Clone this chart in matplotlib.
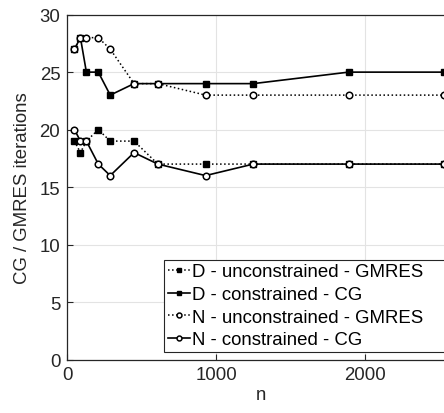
import matplotlib
matplotlib.use('Agg')
import matplotlib.pyplot as plt

plt.rcParams['font.family'] = ['Liberation Sans', 'DejaVu Sans']

# Taille du probleme
n = [48, 88, 128, 208, 288, 448, 608, 928, 1248, 1888, 2528]
# Nombre d'iterations
d_uncons_gmres = [19, 18, 19, 20, 19, 19, 17, 17, 17, 17, 17]
d_cons_cg = [27, 28, 25, 25, 23, 24, 24, 24, 24, 25, 25]
n_uncons_gmres = [27, 28, 28, 28, 27, 24, 24, 23, 23, 23, 23]
n_cons_cg = [20, 19, 19, 17, 16, 18, 17, 16, 17, 17, 17]

labels = ['D - unconstrained - GMRES', 'D - constrained - CG',
          'N - unconstrained - GMRES', 'N - constrained - CG']

fig = plt.figure(figsize=(4.44, 4.14), dpi=100)
ax = fig.add_axes([0.1516, 0.1292, 0.8726, 0.833])

ax.plot(n, d_uncons_gmres, ls=':', color='k', lw=1.1, marker='s', ms=4.4,
        mfc='k', label=labels[0])
ax.plot(n, d_cons_cg, ls='-', color='k', lw=1.2, marker='s', ms=4.4,
        mfc='k', label=labels[1])
ax.plot(n, n_uncons_gmres, ls=':', color='k', lw=1.1, marker='o', ms=4.7,
        mfc='white', mew=1.1, label=labels[2])
ax.plot(n, n_cons_cg, ls='-', color='k', lw=1.2, marker='o', ms=4.7,
        mfc='white', mew=1.1, label=labels[3])

ax.set_xlim(0, 2600)
ax.set_ylim(0, 30)
ax.set_xticks([0, 1000, 2000])
ax.set_yticks([0, 5, 10, 15, 20, 25, 30])
ax.grid(True, color='#e3e3e3', lw=0.8)
ax.set_axisbelow(True)
ax.tick_params(direction='in', length=4, labelsize=13.4, colors='#262626',
               width=0.8, pad=5)
for s in ax.spines.values():
    s.set_color('#262626')
    s.set_linewidth(0.9)

ax.set_xlabel('n', fontsize=13.4, color='#262626', labelpad=2)
ax.set_ylabel('CG / GMRES iterations', fontsize=13.4, color='#262626', labelpad=6)

# legende etiree jusqu'au bord droit (coupe comme sur l'original)
leg = ax.legend(loc='lower left', bbox_to_anchor=(0.2496, 0.0218, 0.8, 0.27),
                mode='expand', fontsize=13.4, handlelength=1.2,
                handletextpad=0.12, labelspacing=0.3, borderpad=0.2,
                borderaxespad=0, fancybox=False, framealpha=1, markerscale=0.75)
leg.get_frame().set_edgecolor('#262626')
leg.get_frame().set_linewidth(0.8)

fig.savefig('out.png', dpi=100)
